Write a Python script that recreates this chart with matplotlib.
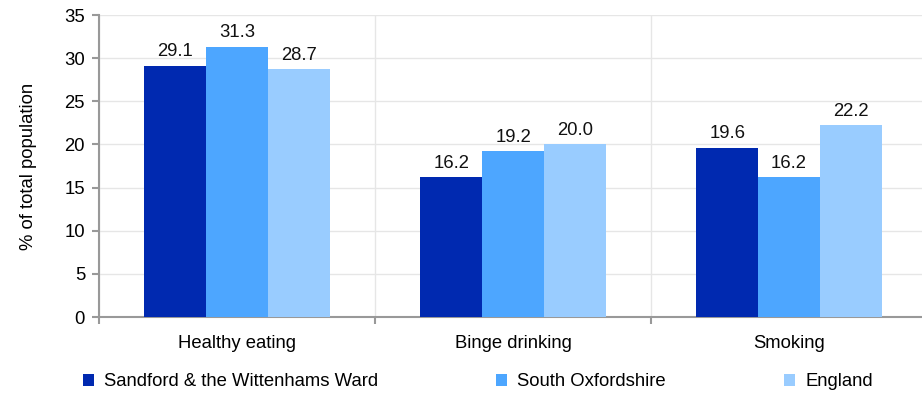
import matplotlib
matplotlib.use("Agg")
import matplotlib.pyplot as plt
import numpy as np

plt.rcParams['font.family'] = ['Liberation Sans', 'DejaVu Sans']

categories = ["Healthy eating", "Binge drinking", "Smoking"]
series_names = ["Sandford & the Wittenhams Ward", "South Oxfordshire", "England"]
sandford = [29.1, 16.2, 19.6]
south_oxon = [31.3, 19.2, 16.2]
england = [28.7, 20.0, 22.2]
colors = ["#0029B0", "#4DA6FF", "#99CCFF"]
yticks = [0, 5, 10, 15, 20, 25, 30, 35]

FS = 13.3
fig = plt.figure(figsize=(9.22, 3.93), dpi=100)
ax = fig.add_axes([99/922, 1-317/393, 828/922, 302/393])

x = np.arange(len(categories))
w = 0.224
for i, (vals, name, c) in enumerate(zip([sandford, south_oxon, england], series_names, colors)):
    bars = ax.bar(x + (i-1)*w, vals, w, color=c, label=name, zorder=3)
    for b, v in zip(bars, vals):
        ax.annotate(f"{v:.1f}", (b.get_x()+b.get_width()/2, v), xytext=(0, 4),
                    textcoords='offset points', ha='center', va='bottom',
                    fontsize=FS, color='#111111', zorder=4)

ax.set_xlim(-0.5, 2.5)
ax.set_ylim(0, 35)
ax.set_yticks(yticks)
ax.set_yticklabels([str(t) for t in yticks], fontsize=FS)
ax.set_xticks(x)
ax.set_xticklabels(categories, fontsize=FS)
ax.tick_params(axis='x', length=0, pad=13)
ax.set_xticks([-0.5, 0.5, 1.5, 2.5], minor=True)
ax.tick_params(axis='x', which='minor', length=5, color='#999999', width=1.5)
ax.tick_params(axis='y', length=5, color='#999999', width=1.5, pad=5)
ax.grid(axis='y', color='#E6E6E6', linewidth=1, zorder=0)
ax.grid(axis='x', which='minor', color='#E6E6E6', linewidth=1, zorder=0)
ax.grid(axis='x', which='major', visible=False)
for s in ['top', 'right']:
    ax.spines[s].set_visible(False)
ax.spines['left'].set_color('#999999')
ax.spines['bottom'].set_color('#999999')
ax.spines['left'].set_linewidth(1.5)
ax.spines['bottom'].set_linewidth(1.5)
ax.set_ylabel("% of total population", fontsize=FS, labelpad=20)

# legend
fig.legend(loc='center left', bbox_to_anchor=(83/922, 1-382/393), ncol=3, frameon=False,
           fontsize=FS, handlelength=0.6, handleheight=0.6, handletextpad=0.54,
           columnspacing=6.4, borderpad=0, borderaxespad=0)

fig.savefig("out.png", dpi=100)
